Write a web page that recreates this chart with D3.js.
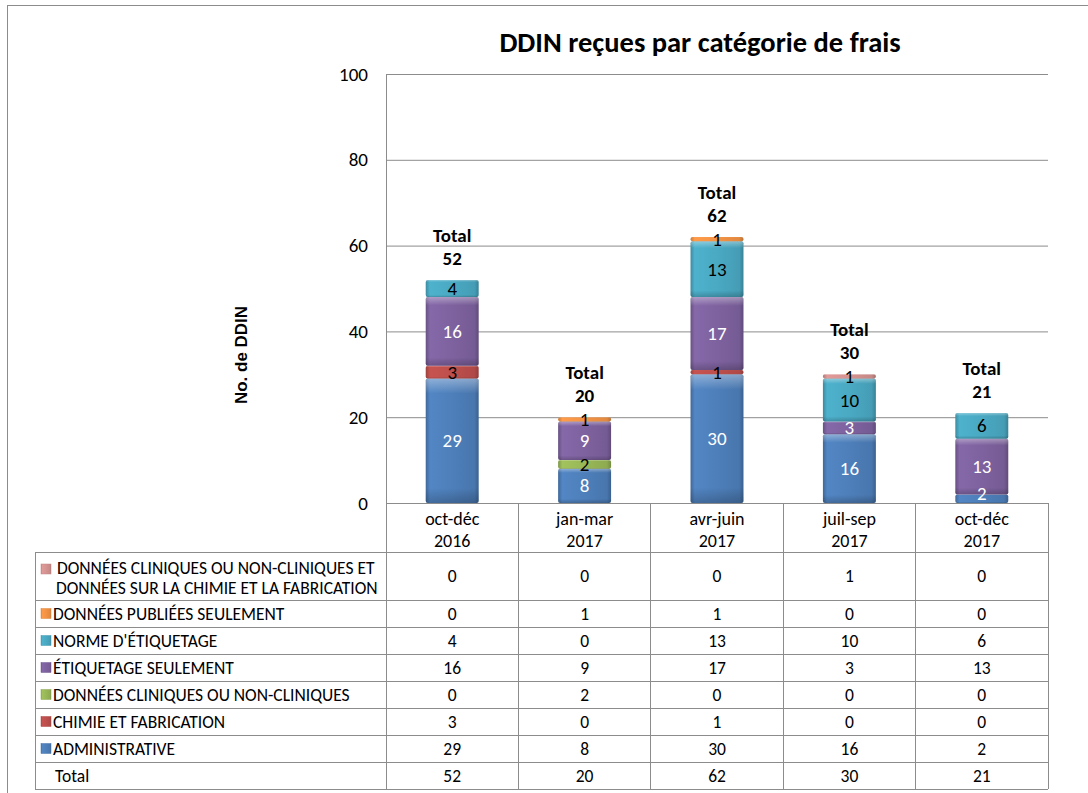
<!DOCTYPE html>
<html>
<head>
<meta charset="utf-8">
<script src="https://cdn.jsdelivr.net/npm/d3@7"></script>
<style>
  body { margin: 0; background: #fff; }
  svg text { font-family: Carlito, "Open Sans", "Noto Sans", sans-serif; }
</style>
</head>
<body>
<svg id="canvas" width="1088" height="793"></svg>
<script>
// quarters
let categories = ["oct-déc|2016", "jan-mar|2017", "avr-juin|2017", "juil-sep|2017", "oct-déc|2017"]

// series, bottom of the stack first
let administrative = [29, 8, 30, 16, 2]
let chimie = [3, 0, 1, 0, 0]
let cliniques = [0, 2, 0, 0, 0]
let etiquetage = [16, 9, 17, 3, 13]
let norme = [4, 0, 13, 10, 6]
let publiees = [0, 1, 1, 0, 0]
let cliniquesChimie = [0, 0, 0, 1, 0]
let totals = [52, 20, 62, 30, 21]

let yTicks = [0, 20, 40, 60, 80, 100]

let series = [
  {name: "ADMINISTRATIVE", values: administrative, color: "#4F81BD", text: "#fff"},
  {name: "CHIMIE ET FABRICATION", values: chimie, color: "#C0504D", text: "#000"},
  {name: "DONNÉES CLINIQUES OU NON-CLINIQUES", values: cliniques, color: "#9BBB59", text: "#000"},
  {name: "ÉTIQUETAGE SEULEMENT", values: etiquetage, color: "#8064A2", text: "#fff"},
  {name: "NORME D'ÉTIQUETAGE", values: norme, color: "#4BACC6", text: "#000"},
  {name: "DONNÉES PUBLIÉES SEULEMENT", values: publiees, color: "#F79646", text: "#000"},
  {name: " DONNÉES CLINIQUES OU NON-CLINIQUES ET|DONNÉES SUR LA CHIMIE ET LA FABRICATION", values: cliniquesChimie, color: "#D99694", text: "#000"}
]

let svg = d3.select('#canvas')

let plotLeft = 386, plotRight = 1048, plotTop = 74, plotBottom = 503
let tableLeft = 35

// outer frame of the chart
svg.append('rect')
   .attr('x', 7.5).attr('y', 5.5)
   .attr('width', 1120).attr('height', 820)
   .attr('fill', 'none').attr('stroke', '#8c8c8c')

let x = d3.scaleBand()
          .domain(d3.range(categories.length))
          .range([plotLeft, plotRight])
let y = d3.scaleLinear().domain([0, 100]).range([plotBottom, plotTop])
let barW = x.bandwidth() * 0.4

// gradients for the bevelled look
let defs = svg.append('defs')
series.forEach((s, i) => {
  let g = defs.append('linearGradient').attr('id', 'g' + i)
              .attr('x1', 0).attr('x2', 1).attr('y1', 0).attr('y2', 0)
  let c = d3.color(s.color)
  g.append('stop').attr('offset', '0%').attr('stop-color', c.darker(0.6))
  g.append('stop').attr('offset', '8%').attr('stop-color', c.brighter(0.1))
  g.append('stop').attr('offset', '50%').attr('stop-color', c.darker(0.05))
  g.append('stop').attr('offset', '92%').attr('stop-color', c.darker(0.25))
  g.append('stop').attr('offset', '100%').attr('stop-color', c.darker(0.8))
  let v = defs.append('linearGradient').attr('id', 'v' + i)
              .attr('x1', 0).attr('x2', 0).attr('y1', 0).attr('y2', 1)
  v.append('stop').attr('offset', '0%').attr('stop-color', '#fff').attr('stop-opacity', 0.35)
  v.append('stop').attr('offset', '12%').attr('stop-color', '#fff').attr('stop-opacity', 0)
  v.append('stop').attr('offset', '88%').attr('stop-color', '#000').attr('stop-opacity', 0)
  v.append('stop').attr('offset', '100%').attr('stop-color', '#000').attr('stop-opacity', 0.2)
})
defs.append('clipPath').attr('id', 'plotClip')
    .append('rect').attr('x', plotLeft).attr('y', plotTop - 60)
    .attr('width', plotRight - plotLeft).attr('height', plotBottom - plotTop + 60)

// title
svg.append('text')
   .attr('x', 700).attr('y', 52)
   .attr('text-anchor', 'middle')
   .style('font-size', '28.5px').style('font-weight', 'bold')
   .text('DDIN reçues par catégorie de frais')

// gridlines
svg.append('g').selectAll('line')
   .data(yTicks)
   .enter()
   .append('line')
   .attr('x1', plotLeft).attr('x2', plotRight)
   .attr('y1', d => y(d) + 0.5).attr('y2', d => y(d) + 0.5)
   .attr('stroke', '#8c8c8c')

svg.append('line')
   .attr('x1', plotLeft + 0.5).attr('x2', plotLeft + 0.5)
   .attr('y1', plotTop).attr('y2', plotBottom)
   .attr('stroke', '#8c8c8c')

// y axis labels
let yAxis = d3.axisLeft(y).tickValues(yTicks).tickSize(0).tickPadding(18)
svg.append('g')
   .attr('transform', 'translate(' + plotLeft + ',0)')
   .call(yAxis)
   .call(g => g.select('.domain').remove())
   .selectAll('text')
   .style('font-family', 'Carlito, "Open Sans", sans-serif')
   .style('font-size', '19px')
   .attr('fill', '#000')

svg.append('text')
   .attr('transform', 'translate(247,355) rotate(-90)')
   .attr('text-anchor', 'middle')
   .style('font-family', '"Liberation Sans", Arial, sans-serif')
   .style('font-size', '17px').style('font-weight', 'bold')
   .text('No. de DDIN')

// stacked bars
let stackData = categories.map((c, i) => {
  let row = {i: i}
  series.forEach((s, k) => { row[k] = s.values[i] })
  return row
})
let stacked = d3.stack().keys(d3.range(series.length))(stackData)

let bars = svg.append('g').attr('clip-path', 'url(#plotClip)')
stacked.forEach((layer, k) => {
  let grp = bars.append('g')
  let segs = layer.filter(d => d[1] > d[0])
  grp.selectAll('rect.fill')
     .data(segs)
     .enter()
     .append('rect')
     .attr('x', d => x(d.data.i) + (x.bandwidth() - barW) / 2)
     .attr('y', d => y(d[1]))
     .attr('width', barW)
     .attr('height', d => y(d[0]) - y(d[1]))
     .attr('rx', 2)
     .attr('fill', 'url(#g' + k + ')')
  grp.selectAll('rect.shade')
     .data(segs)
     .enter()
     .append('rect')
     .attr('x', d => x(d.data.i) + (x.bandwidth() - barW) / 2)
     .attr('y', d => y(d[1]))
     .attr('width', barW)
     .attr('height', d => y(d[0]) - y(d[1]))
     .attr('rx', 2)
     .attr('fill', 'url(#v' + k + ')')
})
stacked.forEach((layer, k) => {
  bars.append('g').selectAll('text')
      .data(layer.filter(d => d[1] > d[0]))
      .enter()
      .append('text')
      .attr('x', d => x(d.data.i) + x.bandwidth() / 2)
      // keep the label above the table header line
      .attr('y', d => Math.min((y(d[0]) + y(d[1])) / 2 + 6.5, plotBottom - 3))
      .attr('text-anchor', 'middle')
      .attr('fill', series[k].text)
      .style('font-size', '19px')
      .text(d => d[1] - d[0])
})

// totals above bars
let tot = svg.append('g').selectAll('g')
   .data(totals)
   .enter()
   .append('g')
tot.append('text')
   .attr('x', (d, i) => x(i) + x.bandwidth() / 2)
   .attr('y', d => y(d) - 38)
   .attr('text-anchor', 'middle')
   .style('font-size', '19px').style('font-weight', 'bold')
   .text('Total')
tot.append('text')
   .attr('x', (d, i) => x(i) + x.bandwidth() / 2)
   .attr('y', d => y(d) - 15)
   .attr('text-anchor', 'middle')
   .style('font-size', '19px').style('font-weight', 'bold')
   .text(d => d)

// data table
let headerBottom = 552
let firstRowH = 48
let rowH = (789 - headerBottom - firstRowH) / 7
let rows = series.slice().reverse()
let rowTops = rows.map((r, i) => i === 0 ? headerBottom : headerBottom + firstRowH + (i - 1) * rowH)
rowTops.push(headerBottom + firstRowH + 6 * rowH)
let tableBottom = headerBottom + firstRowH + 7 * rowH

let tbl = svg.append('g').attr('stroke', '#8c8c8c').attr('shape-rendering', 'crispEdges')
tbl.append('line').attr('x1', plotLeft).attr('x2', plotRight).attr('y1', plotBottom).attr('y2', plotBottom)
rowTops.concat([tableBottom]).forEach(t => {
  tbl.append('line').attr('x1', tableLeft).attr('x2', plotRight).attr('y1', t).attr('y2', t)
})
tbl.append('line').attr('x1', tableLeft).attr('x2', tableLeft).attr('y1', headerBottom).attr('y2', tableBottom)
d3.range(categories.length + 1).forEach(i => {
  let xx = i < categories.length ? x(i) : plotRight
  tbl.append('line').attr('x1', xx).attr('x2', xx).attr('y1', plotBottom).attr('y2', tableBottom)
})

// header cells
let head = svg.append('g').selectAll('text')
   .data(categories)
   .enter()
   .append('text')
   .attr('text-anchor', 'middle')
   .style('font-size', '18px')
head.append('tspan')
    .attr('x', (d, i) => x(i) + x.bandwidth() / 2).attr('y', 525)
    .text(d => d.split('|')[0])
head.append('tspan')
    .attr('x', (d, i) => x(i) + x.bandwidth() / 2).attr('y', 547)
    .text(d => d.split('|')[1])

// series rows
rows.forEach((s, r) => {
  let top = rowTops[r]
  let h = r === 0 ? firstRowH : rowH
  let k = series.length - 1 - r
  let keyY = r === 0 ? top + 12 : top + h / 2 - 5
  svg.append('rect')
     .attr('x', 41).attr('y', keyY)
     .attr('width', 10).attr('height', 10)
     .attr('fill', 'url(#g' + k + ')')
     .attr('stroke', d3.color(s.color).darker(0.3)).attr('stroke-width', 0.5)
  let lines = s.name.split('|')
  lines.forEach((ln, j) => {
    svg.append('text')
       .attr('x', j === 0 ? 53 : 56)
       .attr('y', r === 0 ? top + 22 + j * 20 : top + h / 2 + 6)
       .style('font-size', '17.5px')
       .style('white-space', 'pre')
       .text(ln)
  })
  svg.append('g').selectAll('text')
     .data(s.values)
     .enter()
     .append('text')
     .attr('x', (d, i) => x(i) + x.bandwidth() / 2)
     .attr('y', top + h / 2 + 6)
     .attr('text-anchor', 'middle')
     .style('font-size', '17.5px')
     .text(d => d)
})

// total row
let totTop = rowTops[7]
svg.append('text')
   .attr('x', 55).attr('y', totTop + rowH / 2 + 6)
   .style('font-size', '17.5px')
   .text('Total')
svg.append('g').selectAll('text')
   .data(totals)
   .enter()
   .append('text')
   .attr('x', (d, i) => x(i) + x.bandwidth() / 2)
   .attr('y', totTop + rowH / 2 + 6)
   .attr('text-anchor', 'middle')
   .style('font-size', '17.5px')
   .text(d => d)
</script>
</body>
</html>
